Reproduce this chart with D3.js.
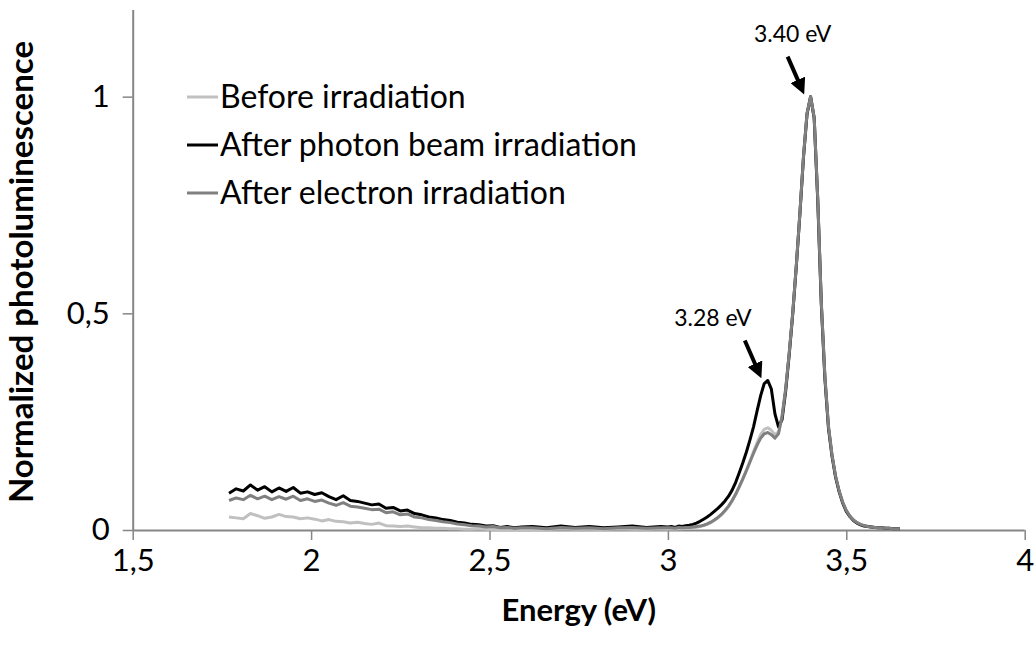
<!DOCTYPE html>
<html>
<head>
<meta charset="utf-8">
<script src="https://cdn.jsdelivr.net/npm/d3@7"></script>
<style>
  html, body { margin: 0; padding: 0; background: #fff; }
  svg { display: block; font-family: Lato, "Open Sans", sans-serif; }
</style>
</head>
<body>
<svg id="chart" width="1036" height="657"></svg>
<script>
// Photon energies (eV): fine steps in the broad band and the excitonic peaks, coarser on the flat baseline
const energy = [
  1.77, 1.79, 1.81, 1.83, 1.85, 1.87, 1.89, 1.91, 1.93, 1.95, 1.97, 1.99, 2.01, 2.03,
  2.05, 2.07, 2.09, 2.11, 2.13, 2.15, 2.17, 2.19, 2.21, 2.23, 2.25, 2.27, 2.29, 2.31,
  2.33, 2.35, 2.37, 2.39, 2.41, 2.43, 2.45, 2.47, 2.49, 2.51, 2.53, 2.55, 2.57, 2.59,
  2.62, 2.66, 2.70, 2.74, 2.78, 2.82, 2.86, 2.90, 2.94, 2.98,
  3.00, 3.01, 3.02, 3.03, 3.04, 3.05, 3.06, 3.07, 3.08, 3.09, 3.10, 3.11, 3.12, 3.13,
  3.14, 3.15, 3.16, 3.17, 3.18, 3.19, 3.20, 3.21, 3.22, 3.23, 3.24, 3.25, 3.26, 3.27,
  3.28, 3.29, 3.30, 3.31, 3.32, 3.33, 3.34, 3.35, 3.36, 3.37, 3.38, 3.39, 3.40, 3.41,
  3.42, 3.43, 3.44, 3.45, 3.46, 3.47, 3.48, 3.49, 3.50, 3.51, 3.52, 3.53, 3.54, 3.55,
  3.56, 3.57, 3.58, 3.59, 3.60, 3.61, 3.62, 3.63, 3.64, 3.65
];

const beforeIrradiation = [
  0.030, 0.028, 0.026, 0.038, 0.033, 0.027, 0.030, 0.036, 0.031, 0.030, 0.026, 0.028, 0.025, 0.021,
  0.024, 0.020, 0.019, 0.016, 0.018, 0.015, 0.013, 0.016, 0.010, 0.009, 0.008, 0.009, 0.007, 0.005,
  0.005, 0.004, 0.004, 0.003, 0.003, 0.002, 0.002, 0.003, 0.002, 0.001, 0.002, 0.001, 0.002, 0.001,
  0.002, 0.001, 0.003, 0.002, 0.002, 0.001, 0.003, 0.002, 0.002, 0.003,
  0.002, 0.003, 0.002, 0.003, 0.003, 0.004, 0.004, 0.005, 0.006, 0.008, 0.010, 0.013, 0.017, 0.022,
  0.028, 0.035, 0.044, 0.054, 0.067, 0.082, 0.099, 0.118, 0.138, 0.159, 0.181, 0.202, 0.220, 0.232,
  0.236, 0.230, 0.220, 0.226, 0.264, 0.326, 0.408, 0.502, 0.612, 0.732, 0.862, 0.962, 1.000, 0.952,
  0.765, 0.525, 0.355, 0.240, 0.173, 0.124, 0.090, 0.064, 0.045, 0.032, 0.023, 0.017, 0.013, 0.010,
  0.008, 0.007, 0.006, 0.005, 0.005, 0.004, 0.004, 0.003, 0.003, 0.003
];

const afterPhoton = [
  0.085, 0.095, 0.090, 0.104, 0.092, 0.100, 0.088, 0.097, 0.089, 0.098, 0.085, 0.088, 0.082, 0.086,
  0.077, 0.070, 0.079, 0.068, 0.066, 0.062, 0.058, 0.060, 0.050, 0.052, 0.044, 0.046, 0.038, 0.035,
  0.030, 0.028, 0.024, 0.022, 0.018, 0.016, 0.013, 0.012, 0.009, 0.010, 0.006, 0.008, 0.005, 0.007,
  0.008, 0.005, 0.009, 0.006, 0.008, 0.005, 0.007, 0.009, 0.006, 0.008,
  0.007, 0.008, 0.006, 0.009, 0.008, 0.010, 0.011, 0.013, 0.016, 0.020, 0.025, 0.030, 0.036, 0.043,
  0.050, 0.058, 0.067, 0.078, 0.092, 0.110, 0.132, 0.155, 0.180, 0.208, 0.238, 0.275, 0.310, 0.338,
  0.345, 0.325, 0.268, 0.238, 0.255, 0.320, 0.405, 0.500, 0.610, 0.730, 0.860, 0.960, 1.000, 0.950,
  0.760, 0.520, 0.350, 0.235, 0.170, 0.122, 0.088, 0.062, 0.043, 0.031, 0.022, 0.016, 0.012, 0.009,
  0.008, 0.007, 0.006, 0.005, 0.005, 0.004, 0.004, 0.003, 0.003, 0.003
];

const afterElectron = [
  0.068, 0.074, 0.070, 0.080, 0.072, 0.078, 0.070, 0.077, 0.071, 0.078, 0.068, 0.072, 0.066, 0.069,
  0.062, 0.057, 0.063, 0.055, 0.053, 0.050, 0.047, 0.048, 0.040, 0.042, 0.035, 0.037, 0.030, 0.028,
  0.024, 0.022, 0.019, 0.017, 0.014, 0.012, 0.010, 0.009, 0.007, 0.008, 0.005, 0.006, 0.004, 0.005,
  0.005, 0.003, 0.006, 0.004, 0.005, 0.003, 0.005, 0.006, 0.004, 0.005,
  0.005, 0.005, 0.004, 0.006, 0.005, 0.006, 0.006, 0.007, 0.008, 0.009, 0.011, 0.014, 0.018, 0.023,
  0.029, 0.036, 0.045, 0.055, 0.068, 0.083, 0.100, 0.118, 0.137, 0.157, 0.177, 0.196, 0.212, 0.222,
  0.225, 0.220, 0.212, 0.222, 0.262, 0.325, 0.408, 0.502, 0.612, 0.732, 0.862, 0.962, 1.000, 0.952,
  0.765, 0.525, 0.355, 0.240, 0.173, 0.124, 0.090, 0.064, 0.045, 0.032, 0.023, 0.017, 0.013, 0.010,
  0.008, 0.007, 0.006, 0.005, 0.005, 0.004, 0.004, 0.003, 0.003, 0.003
];

const seriesNames = ["Before irradiation", "After photon beam irradiation", "After electron irradiation"];
const seriesColors = ["#c0c0c0", "#000000", "#808080"];
const xTicks = [1.5, 2, 2.5, 3, 3.5, 4];
const yTicks = [0, 0.5, 1];
const peakLabels = ["3.28 eV", "3.40 eV"];
const peakEnergies = [3.28, 3.40];
const peakLabelShift = [-55, -18];

const svg = d3.select("#chart");
const x = d3.scaleLinear().domain([1.5, 4]).range([132.7, 1024.7]);
const y = d3.scaleLinear().domain([0, 1.2]).range([530, 10]);
const fmt = d => String(d).replace(".", ",");
const axisColor = "#868686";

// Axes
const xAxis = svg.append("g").attr("transform", `translate(0,${y(0)})`)
  .call(d3.axisBottom(x).tickValues(xTicks).tickFormat(fmt).tickSize(10).tickPadding(9));
const yAxis = svg.append("g").attr("transform", `translate(${x(1.5)},0)`)
  .call(d3.axisLeft(y).tickValues(yTicks).tickFormat(fmt).tickSize(10).tickPadding(13));
[xAxis, yAxis].forEach(g => {
  g.select(".domain").attr("stroke", axisColor).attr("stroke-width", 2);
  g.selectAll(".tick line").attr("stroke", axisColor).attr("stroke-width", 1.5);
  g.selectAll(".tick text").attr("fill", "#000").style("font-size", "31px")
    .style("font-family", "Lato, 'Open Sans', sans-serif");
});
yAxis.select(".domain").attr("d", `M0.5,${y(1.2)}V${y(0)}`);
xAxis.select(".domain").attr("d", `M${x(1.5)},0.5H${x(4)}`);

// Spectra, electron-irradiated drawn last so it sits on top
const seriesValues = [beforeIrradiation, afterPhoton, afterElectron];
const line = d3.line().x((d, i) => x(energy[i])).y(d => y(d));
seriesValues.forEach((vals, k) => {
  svg.append("path").datum(vals)
    .attr("fill", "none")
    .attr("stroke", seriesColors[k])
    .attr("stroke-width", 3)
    .attr("stroke-linejoin", "round")
    .attr("d", line);
});

// Axis titles
svg.append("text")
  .attr("x", (x(1.5) + x(4)) / 2).attr("y", 621)
  .attr("text-anchor", "middle")
  .style("font-size", "31px").style("font-weight", "bold")
  .text("Energy (eV)");
svg.append("text")
  .attr("transform", `translate(33,${(y(0) + y(1.2)) / 2 + 2}) rotate(-90)`)
  .attr("text-anchor", "middle")
  .style("font-size", "33px").style("font-weight", "bold")
  .text("Normalized photoluminescence");

// Legend
const legend = svg.append("g");
seriesNames.forEach((name, k) => {
  const cy = 97 + k * 48;
  legend.append("line")
    .attr("x1", 187).attr("x2", 218).attr("y1", cy).attr("y2", cy)
    .attr("stroke", seriesColors[k]).attr("stroke-width", 3);
  legend.append("text")
    .attr("x", 220).attr("y", cy + 11)
    .style("font-size", "32px")
    .text(name);
});

// Peak annotations with arrows
svg.append("defs").append("marker")
  .attr("id", "arrowHead").attr("viewBox", "0 0 10 10")
  .attr("refX", 6).attr("refY", 5)
  .attr("markerWidth", 4).attr("markerHeight", 4)
  .attr("orient", "auto")
  .append("path").attr("d", "M0,0L10,5L0,10z").attr("fill", "#000");

const peakValue = e => afterPhoton[energy.indexOf(e)];
peakEnergies.forEach((e, k) => {
  const px = x(e), py = y(peakValue(e));
  svg.append("line")
    .attr("x1", px - 23).attr("y1", py - 40)
    .attr("x2", px - 9).attr("y2", py - 8)
    .attr("stroke", "#000").attr("stroke-width", 4)
    .attr("marker-end", "url(#arrowHead)");
  svg.append("text")
    .attr("x", px + peakLabelShift[k]).attr("y", py - 55)
    .attr("text-anchor", "middle")
    .style("font-size", "23px")
    .text(peakLabels[k]);
});
</script>
</body>
</html>
